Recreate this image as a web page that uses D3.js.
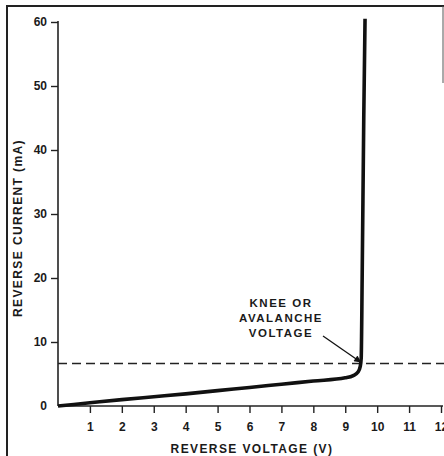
<!DOCTYPE html>
<html>
<head>
<meta charset="utf-8">
<script src="https://cdn.jsdelivr.net/npm/d3@7"></script>
<style>
  body { margin: 0; background: #fff; }
  text { font-family: "Liberation Sans", Arial, sans-serif; fill: #1a1a1a; font-weight: bold; }
</style>
</head>
<body>
<div id="chart"></div>
<script>
// reverse voltage (V) and reverse current (mA)
const voltage = [0, 1, 2, 3, 4, 5, 6, 7, 8, 9, 9.25, 9.4, 9.47, 9.5, 9.53, 9.58, 9.62];
const current = [0, 0.5, 1.0, 1.45, 1.9, 2.4, 2.9, 3.4, 3.9, 4.4, 4.75, 5.3, 6.2, 7.5, 20, 45, 60.5];
const kneeCurrent = 6.65;
const xTicks = [1, 2, 3, 4, 5, 6, 7, 8, 9, 10, 11, 12];
const yTicks = [0, 10, 20, 30, 40, 50, 60];
const noteLines = ['KNEE OR', 'AVALANCHE', 'VOLTAGE'];

const width = 444, height = 456;
const margin = {top: 22, right: 3, bottom: 50, left: 58};

const svg = d3.select('#chart').append('svg')
    .attr('width', width)
    .attr('height', height);

const x = d3.scaleLinear()
    .domain([0, 12])
    .range([margin.left, width - margin.right]);

const y = d3.scaleLinear()
    .domain([0, 60])
    .range([height - margin.bottom, margin.top]);

// frame around the figure
svg.append('path')
    .attr('d', `M7,${height}V6H${width}`)
    .attr('fill', 'none')
    .attr('stroke', '#222')
    .attr('stroke-width', 2);
svg.append('line')
    .attr('x1', 443).attr('x2', 443)
    .attr('y1', 6).attr('y2', 83)
    .attr('stroke', '#555').attr('stroke-width', 1);

// axes
const xAxis = svg.append('g')
    .attr('transform', `translate(0,${y(0)})`)
    .call(d3.axisBottom(x).tickValues(xTicks).tickSize(7).tickPadding(9).tickSizeOuter(0));

const yAxis = svg.append('g')
    .attr('transform', `translate(${x(0)},0)`)
    .call(d3.axisLeft(y).tickValues(yTicks).tickSize(7).tickPadding(4).tickSizeOuter(0));

[xAxis, yAxis].forEach(ax => {
  ax.select('.domain').attr('stroke', '#222').attr('stroke-width', 1.6);
  ax.selectAll('.tick line').attr('stroke', '#222').attr('stroke-width', 1.4);
  ax.selectAll('.tick text')
      .attr('font-size', 12)
      .attr('font-family', '"Liberation Sans", Arial, sans-serif')
      .attr('fill', '#1a1a1a');
});
yAxis.selectAll('.tick').filter(d => d === 0).select('line').remove();
yAxis.select('.domain').attr('d', `M0,${y(0)}V${y(60) - 1}`);
xAxis.select('.domain').attr('d', `M${x(0)},0H${width - 1}`);

// axis titles
svg.append('text')
    .attr('x', 252)
    .attr('y', 453)
    .attr('text-anchor', 'middle')
    .attr('font-size', 12)
    .attr('letter-spacing', 1.4)
    .text('REVERSE VOLTAGE (V)');

svg.append('text')
    .attr('transform', `translate(22,228) rotate(-90)`)
    .attr('text-anchor', 'middle')
    .attr('font-size', 12)
    .attr('letter-spacing', 1.4)
    .text('REVERSE CURRENT (mA)');

// knee voltage dashed level
svg.append('line')
    .attr('x1', x(0)).attr('x2', width)
    .attr('y1', y(kneeCurrent)).attr('y2', y(kneeCurrent))
    .attr('stroke', '#222')
    .attr('stroke-width', 1.4)
    .attr('stroke-dasharray', '9,5');

// characteristic curve
const line = d3.line()
    .x((d, i) => x(voltage[i]))
    .y(d => y(d))
    .curve(d3.curveMonotoneX);

svg.append('path')
    .datum(current)
    .attr('d', line)
    .attr('fill', 'none')
    .attr('stroke', '#111')
    .attr('stroke-width', 3.6)
    .attr('stroke-linejoin', 'round');

// annotation
svg.append('g')
    .selectAll('text')
    .data(noteLines)
    .join('text')
      .attr('x', 281)
      .attr('y', (d, i) => 307 + i * 15)
      .attr('text-anchor', 'middle')
      .attr('font-size', 11.5)
      .attr('letter-spacing', 1.5)
      .text(d => d);

svg.append('defs').append('marker')
    .attr('id', 'arrow')
    .attr('viewBox', '0 0 10 10')
    .attr('refX', 10).attr('refY', 5)
    .attr('markerWidth', 9).attr('markerHeight', 7)
    .attr('markerUnits', 'userSpaceOnUse')
    .attr('orient', 'auto')
  .append('path')
    .attr('d', 'M0,0L10,5L0,10Z')
    .attr('fill', '#111');

svg.append('line')
    .attr('x1', 323).attr('y1', 336)
    .attr('x2', x(9.5)).attr('y2', y(kneeCurrent) - 1)
    .attr('stroke', '#111')
    .attr('stroke-width', 1.3)
    .attr('marker-end', 'url(#arrow)');
</script>
</body>
</html>
